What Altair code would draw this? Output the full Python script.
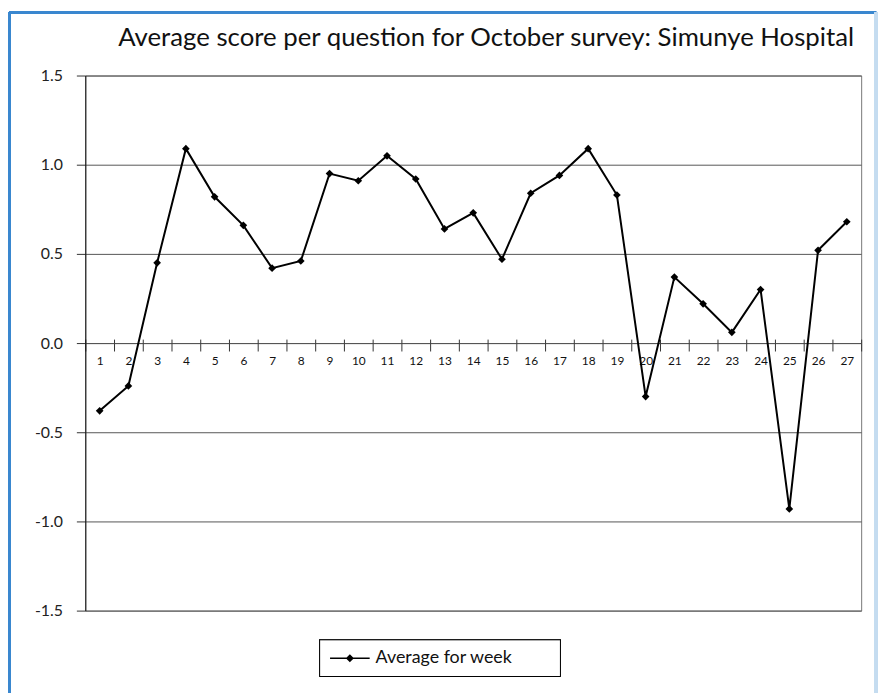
import altair as alt
import pandas as pd

questions = [str(i) for i in range(1, 28)]
scores = [-0.38, -0.24, 0.45, 1.09, 0.82, 0.66, 0.42, 0.46, 0.95, 0.91,
          1.05, 0.92, 0.64, 0.73, 0.47, 0.84, 0.94, 1.09, 0.83, -0.30,
          0.37, 0.22, 0.06, 0.30, -0.93, 0.52, 0.68]
series_name = "Average for week"
y_ticks = [-1.5, -1.0, -0.5, 0.0, 0.5, 1.0, 1.5]
title_text = "Average score per question for October survey: Simunye Hospital"

df = pd.DataFrame({"q": questions, "score": scores, "series": series_name})

W, H = 783, 540
FONT = "Lato"

x_scale = alt.Scale(paddingInner=0, paddingOuter=0)
x_enc = alt.X("q:N", sort=questions, scale=x_scale,
              axis=alt.Axis(orient="bottom", offset=-H / 2, tickSize=8,
                            tickBand="extent", labelAngle=0, labelFontSize=12,
                            labelPadding=5, labelColor="#111", tickColor="#333",
                            domainColor="#555", grid=False, title=None))
x_enc_top = alt.X("q:N", sort=questions, scale=x_scale,
                  axis=alt.Axis(orient="top", offset=-H / 2, tickSize=4,
                                tickBand="extent", labels=False, domain=False,
                                tickColor="#333", grid=False, title=None))
y_enc = alt.Y("score:Q",
              scale=alt.Scale(domain=[-1.5, 1.5], nice=False, zero=False),
              axis=alt.Axis(values=y_ticks, tickSize=9, labelPadding=14,
                            labelFontSize=16, labelColor="#222",
                            labelExpr="replace(format(datum.value, '.1f'), '\u2212', '-')",
                            grid=True, gridColor="#555", gridWidth=1,
                            domainColor="#111", tickColor="#333", title=None))

line = alt.Chart(df).mark_line(strokeWidth=2).encode(
    x=x_enc, y=y_enc,
    color=alt.Color("series:N", scale=alt.Scale(range=["black"]),
                    legend=alt.Legend(
                        title=None, orient="none", legendX=241, legendY=577,
                        padding=0,
                        symbolType="M-0.5,0L3.5,0M1.5,-0.3L1.8,0L1.5,0.3L1.2,0Z",
                        symbolSize=400, symbolStrokeWidth=1.5,
                        symbolFillColor="black", symbolStrokeColor="black",
                        labelFontSize=18, labelColor="#111", labelOffset=30,
                        labelLimit=400))
)

points = alt.Chart(df).mark_point(shape="diamond", filled=True, size=60,
                                  opacity=1, color="black").encode(
    x=x_enc_top, y="score:Q")

# legend frame box (decorative)
legend_box = alt.Chart(df).mark_rect(fill="white", stroke="black",
                                     strokeWidth=1).encode(
    x=alt.value(236.5), x2=alt.value(479.5), y=alt.value(569.5), y2=alt.value(606.5))

frame_color = "#3a87cf"
top_rule = alt.Chart(df).mark_rule(color=frame_color, strokeWidth=3).encode(
    x=alt.value(-76.5), x2=alt.value(798), y=alt.value(-63.5))
left_rule = alt.Chart(df).mark_rule(color=frame_color, strokeWidth=3).encode(
    x=alt.value(-76.5), y=alt.value(-63.5), y2=alt.value(H + 90))
right_rule = alt.Chart(df).mark_rule(color="#c5dcf0", strokeWidth=3).encode(
    x=alt.value(798), y=alt.value(-63.5), y2=alt.value(H + 90))

chart = alt.layer(legend_box, line, points, top_rule, left_rule, right_rule).resolve_axis(
    x="independent"
).properties(
    width=W, height=H,
    autosize=alt.AutoSizeParams(type="none"),
    padding={"left": 78, "top": 65, "right": 18, "bottom": 80},
    title=alt.Title(title_text, fontSize=26, font=FONT, fontWeight="normal",
                    color="#111", anchor="middle", frame="group", dx=13,
                    baseline="bottom", offset=-66),
).configure(font=FONT).configure_view(stroke="#777", strokeWidth=1)

chart.save("out.html", embed_options={"renderer": "svg", "actions": False})
